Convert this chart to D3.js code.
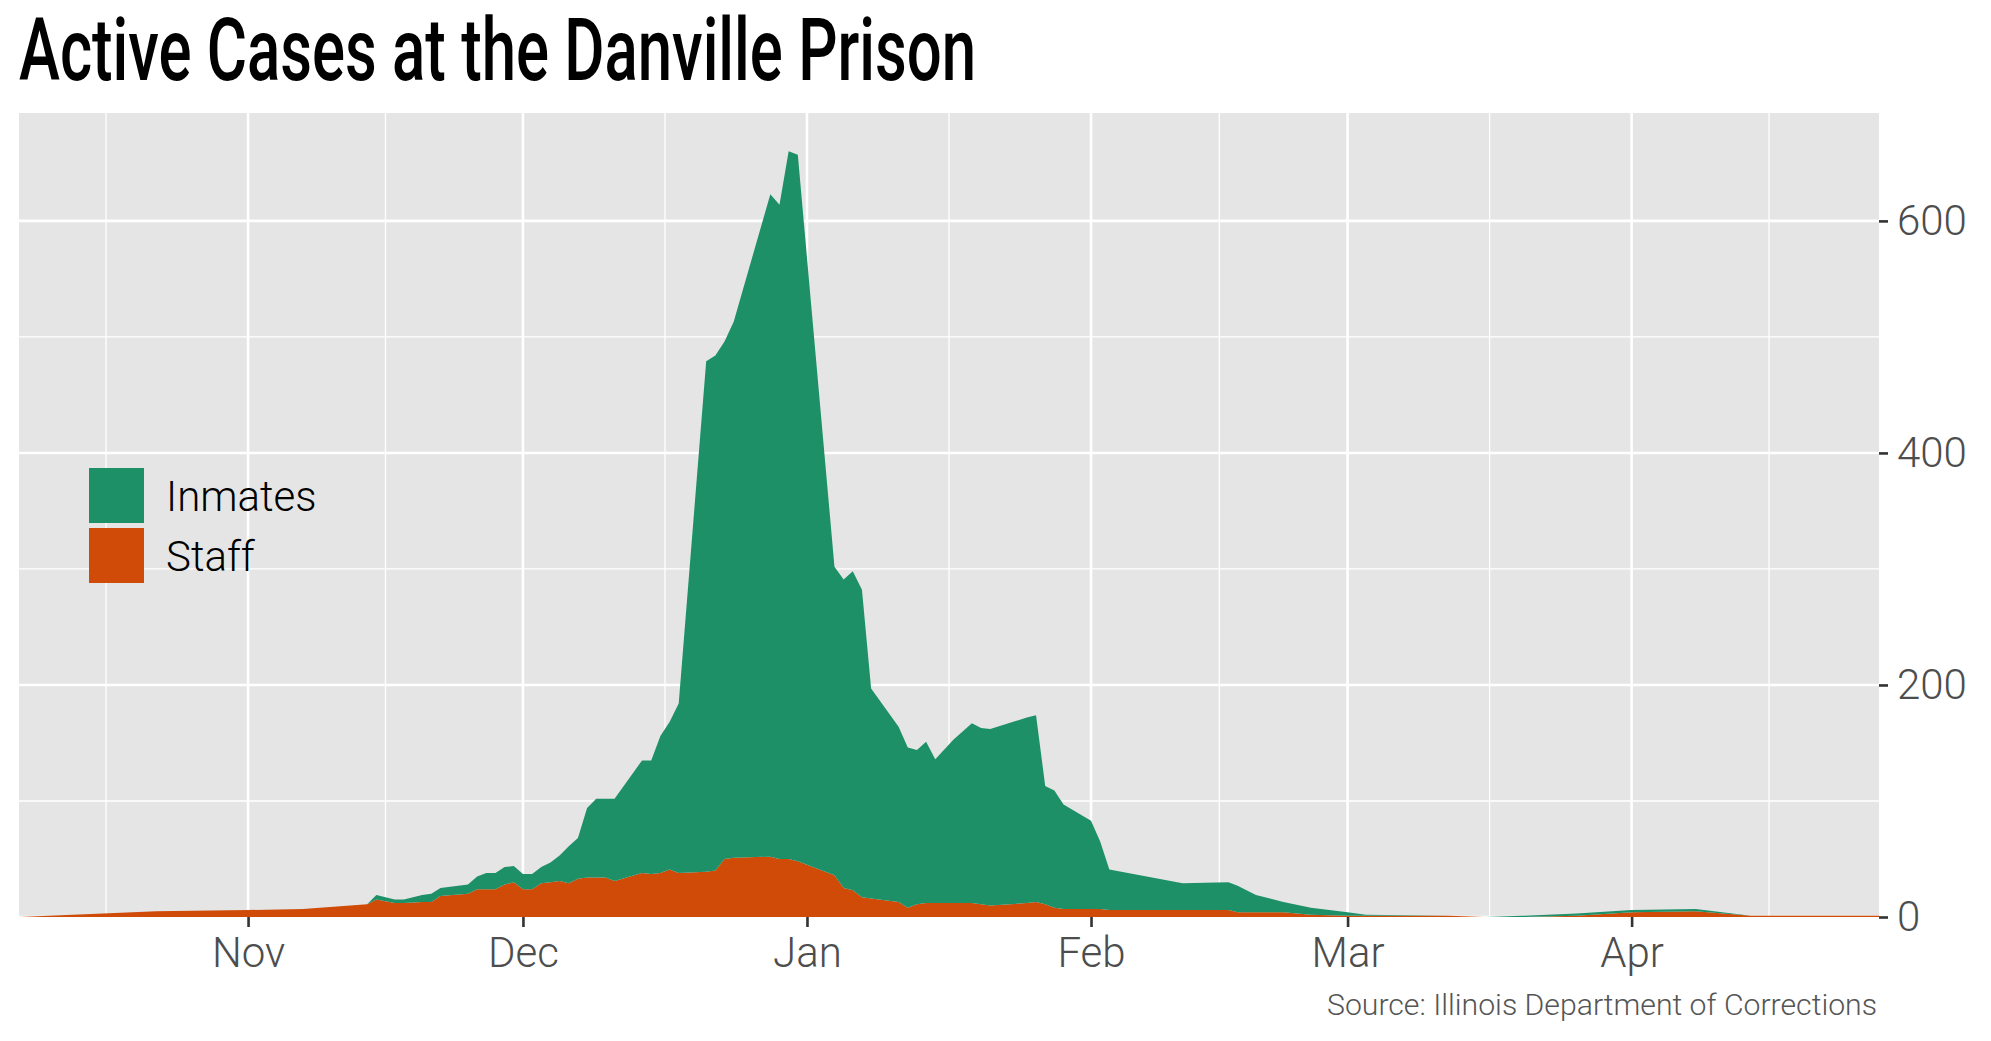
<!DOCTYPE html>
<html>
<head>
<meta charset="utf-8">
<script src="https://cdn.jsdelivr.net/npm/d3@7"></script>
<style>
  body { margin: 0; background: #fff; }
  text { font-family: Roboto, "Noto Sans", sans-serif; }
</style>
</head>
<body>
<script>
const width = 1991, height = 1041;

// active case counts
const dates = [
  "2020-10-07","2020-10-22","2020-11-01","2020-11-07","2020-11-14","2020-11-15",
  "2020-11-17","2020-11-18","2020-11-20","2020-11-21","2020-11-22","2020-11-25",
  "2020-11-26","2020-11-27","2020-11-28","2020-11-29","2020-11-30","2020-12-01",
  "2020-12-02","2020-12-03","2020-12-04","2020-12-05","2020-12-06","2020-12-07",
  "2020-12-08","2020-12-09","2020-12-10","2020-12-11","2020-12-14","2020-12-15",
  "2020-12-16","2020-12-17","2020-12-18","2020-12-21","2020-12-22","2020-12-23",
  "2020-12-24","2020-12-28","2020-12-29","2020-12-30","2020-12-31","2021-01-04",
  "2021-01-05","2021-01-06","2021-01-07","2021-01-08","2021-01-11","2021-01-12",
  "2021-01-13","2021-01-14","2021-01-15","2021-01-17","2021-01-19","2021-01-20",
  "2021-01-21","2021-01-25","2021-01-26","2021-01-27","2021-01-28","2021-01-29",
  "2021-02-01","2021-02-02","2021-02-03","2021-02-11","2021-02-16","2021-02-17",
  "2021-02-19","2021-02-22","2021-02-25","2021-03-01","2021-03-03","2021-03-12",
  "2021-03-16","2021-03-20","2021-03-26","2021-04-01","2021-04-08","2021-04-14",
  "2021-04-28"
];
const staff = [
  0, 5, 6, 7, 11, 15,
  12, 12, 13, 13, 18, 20,
  24, 24, 24, 28, 30, 24,
  24, 29, 30, 31, 29, 33,
  34, 34, 34, 31, 38, 37,
  38, 41, 38, 39, 40, 50,
  51, 52, 50, 50, 48, 36,
  25, 23, 17, 16, 13, 8,
  11, 12, 12, 12, 12, 11,
  10, 12, 13, 11, 8, 7,
  7, 7, 6, 6, 6, 4,
  4, 4, 2, 1, 1, 1,
  0, 0, 1, 4, 5, 1,
  1
];
const inmates = [
  0, 0, 0, 0, 0, 4,
  3, 3, 6, 7, 7, 8,
  11, 14, 14, 15, 14, 13,
  13, 14, 17, 22, 32, 35,
  60, 68, 68, 71, 97, 98,
  118, 127, 146, 440, 444, 446,
  462, 571, 564, 610, 609, 266,
  266, 275, 265, 181, 151, 138,
  133, 139, 124, 141, 155, 152,
  152, 160, 161, 102, 101, 90,
  76, 58, 35, 23, 24, 23,
  15, 9, 6, 3, 1, 0,
  0, 1, 2, 2, 2, 0,
  0
];
const groups = ["Inmates", "Staff"];
const monthTicks = ["2020-11-01","2020-12-01","2021-01-01","2021-02-01","2021-03-01","2021-04-01"];
const yTicks = [0, 200, 400, 600];
const yMinor = [100, 300, 500];

const parse = d3.utcParse("%Y-%m-%d");
const rows = dates.map((d, i) => ({date: parse(d), staff: staff[i], inmates: inmates[i]}));

const color = d3.scaleOrdinal().domain(groups).range(["#1e9068", "#cf4b07"]);

const panel = {left: 19, right: 1879, top: 113, bottom: 917};

const x = d3.scaleUtc()
    .domain([parse("2020-10-07"), parse("2021-04-28")])
    .range([panel.left, panel.right]);

const y = d3.scaleLinear()
    .domain([0, 660 * 1.05])
    .range([panel.bottom, panel.top]);

const majors = monthTicks.map(parse);
const edges = [parse("2020-10-01"), ...majors, parse("2021-05-01")];
const minors = d3.pairs(edges).map(([a, b]) => new Date((+a + +b) / 2));

const svg = d3.select("body").append("svg")
    .attr("width", width)
    .attr("height", height);

svg.append("rect")
    .attr("x", panel.left)
    .attr("y", panel.top)
    .attr("width", panel.right - panel.left)
    .attr("height", panel.bottom - panel.top)
    .attr("fill", "#e5e5e5");

const grid = svg.append("g").attr("stroke", "#fff");

grid.selectAll("line.ymin")
  .data(yMinor)
  .join("line")
    .attr("x1", panel.left).attr("x2", panel.right)
    .attr("y1", d => y(d)).attr("y2", d => y(d))
    .attr("stroke-width", 1.3);

grid.selectAll("line.xmin")
  .data(minors.filter(d => x(d) > panel.left && x(d) < panel.right))
  .join("line")
    .attr("y1", panel.top).attr("y2", panel.bottom)
    .attr("x1", d => x(d)).attr("x2", d => x(d))
    .attr("stroke-width", 1.3);

grid.append("g").selectAll("line")
  .data(yTicks)
  .join("line")
    .attr("x1", panel.left).attr("x2", panel.right)
    .attr("y1", d => y(d)).attr("y2", d => y(d))
    .attr("stroke-width", 2.6);

grid.append("g").selectAll("line")
  .data(majors)
  .join("line")
    .attr("y1", panel.top).attr("y2", panel.bottom)
    .attr("x1", d => x(d)).attr("x2", d => x(d))
    .attr("stroke-width", 2.6);

// stacked areas: staff at the bottom, inmates on top
const stack = d3.stack().keys(["staff", "inmates"]);
const series = stack(rows);

const area = d3.area()
    .x(d => x(d.data.date))
    .y0(d => y(d[0]))
    .y1(d => y(d[1]));

svg.append("g")
  .selectAll("path")
  .data(series)
  .join("path")
    .attr("fill", d => color(d.key === "staff" ? "Staff" : "Inmates"))
    .attr("d", area);

// axes
const xAxis = svg.append("g")
    .attr("transform", `translate(0,${panel.bottom})`)
    .call(d3.axisBottom(x)
      .tickValues(majors)
      .tickFormat(d3.utcFormat("%b"))
      .tickSize(10)
      .tickPadding(10));

const yAxis = svg.append("g")
    .attr("transform", `translate(${panel.right},0)`)
    .call(d3.axisRight(y)
      .tickValues(yTicks)
      .tickSize(9)
      .tickPadding(9));

[xAxis, yAxis].forEach(g => {
  g.select(".domain").remove();
  g.selectAll(".tick line").attr("stroke", "#333").attr("stroke-width", 2.6);
  g.selectAll(".tick text")
    .attr("fill", "#4d4d4d")
    .attr("font-size", 42)
    .attr("font-weight", 300)
    .attr("font-family", "Roboto, sans-serif");
});

// legend
const legend = svg.append("g").attr("transform", "translate(89,468)");
const item = legend.selectAll("g")
  .data(groups)
  .join("g")
    .attr("transform", (d, i) => `translate(0,${i * 60})`);

item.append("rect")
    .attr("width", 55)
    .attr("height", 55)
    .attr("fill", d => color(d));

item.append("text")
    .attr("x", 77)
    .attr("y", 43)
    .attr("font-size", 42)
    .attr("font-weight", 300)
    .attr("fill", "#000")
    .text(d => d);

// title and source
svg.append("text")
    .attr("x", 19)
    .attr("y", 80)
    .attr("font-size", 87)
    .attr("font-weight", 500)
    .attr("fill", "#000")
    .attr("textLength", 957)
    .attr("lengthAdjust", "spacingAndGlyphs")
    .text("Active Cases at the Danville Prison");

svg.append("text")
    .attr("x", 1877)
    .attr("y", 1015)
    .attr("text-anchor", "end")
    .attr("font-size", 30)
    .attr("font-weight", 300)
    .attr("fill", "#555")
    .attr("textLength", 550)
    .attr("lengthAdjust", "spacingAndGlyphs")
    .text("Source: Illinois Department of Corrections");
</script>
</body>
</html>
